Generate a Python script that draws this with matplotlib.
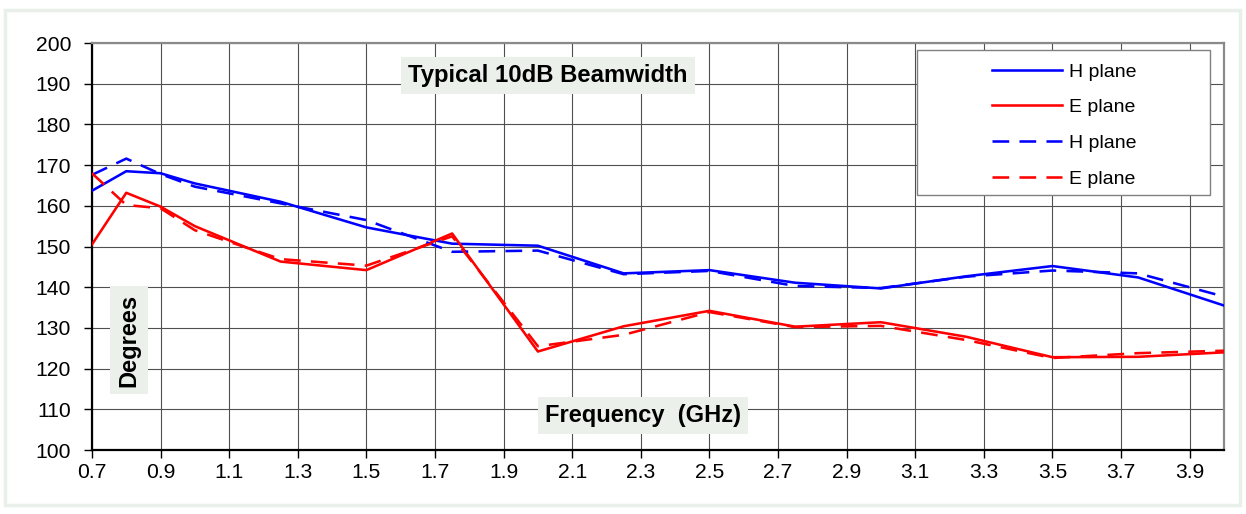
import numpy as np
import matplotlib
matplotlib.use("Agg")
import matplotlib.pyplot as plt
from matplotlib.patches import Rectangle

plt.rcParams["font.family"] = ["Liberation Sans", "DejaVu Sans"]

# data
freq = [0.7, 0.8, 0.9, 1.0, 1.25, 1.5, 1.75, 2.0, 2.25, 2.5, 2.75, 3.0, 3.25, 3.5, 3.75, 4.0]
h_solid = [163.7, 168.5, 168.0, 165.5, 161.0, 154.7, 150.7, 150.2, 143.4, 144.2, 141.1, 139.7, 142.7, 145.2, 142.4, 135.5]
e_solid = [150.5, 163.2, 159.8, 155.0, 146.3, 144.2, 153.2, 124.2, 130.4, 134.2, 130.3, 131.4, 127.8, 122.8, 122.9, 124.0]
h_dash = [167.6, 171.6, 167.8, 164.7, 160.6, 156.5, 148.7, 149.0, 143.2, 144.0, 140.3, 139.8, 142.6, 144.1, 143.4, 137.7]
e_dash = [168.0, 160.2, 159.4, 154.0, 146.9, 145.3, 152.5, 125.5, 128.3, 133.9, 130.2, 130.5, 127.0, 122.6, 123.8, 124.4]

xticks = [round(0.7 + 0.2*i, 1) for i in range(17)]
yticks = list(range(100, 201, 10))

fig = plt.figure(figsize=(12.46, 5.14), dpi=100)
ax = fig.add_axes([0.0738, 0.1245, 0.9085, 0.7918])

# light outer frame
fig.patches.append(Rectangle((0.004, 0.018), 0.991, 0.962, transform=fig.transFigure,
                             fill=False, edgecolor="#e9f0e9", linewidth=2.5))

lw = 1.85
ax.plot(freq, h_solid, color="#0000ff", lw=lw, label="H plane", zorder=4)
ax.plot(freq, e_solid, color="#ff0000", lw=lw, label="E plane", zorder=4)
ax.plot(freq, h_dash, color="#0000ff", lw=lw, dashes=(6.5, 4), label="H plane", zorder=4)
ax.plot(freq, e_dash, color="#ff0000", lw=lw, dashes=(6.5, 4), label="E plane", zorder=4)

ax.set_xlim(0.7, 4.0)
ax.set_ylim(100, 200)
ax.set_xticks(xticks)
ax.set_xticklabels([f"{t:.1f}" for t in xticks])
ax.set_yticks(yticks)
ax.tick_params(axis="y", direction="out", length=6, width=1, pad=9, labelsize=15.2)
ax.tick_params(axis="x", direction="out", length=6, width=1, pad=3, labelsize=15.2)
ax.set_axisbelow(True)
ax.grid(True, color="#505050", linewidth=0.8)

for side in ["left", "bottom"]:
    ax.spines[side].set_color("black")
    ax.spines[side].set_linewidth(1.6)
for side in ["top", "right"]:
    ax.spines[side].set_color("#8a8a8a")
    ax.spines[side].set_linewidth(1.6)

# legend frame and legend
ax.add_patch(Rectangle((0.7288, 0.6265), 0.2588, 0.3565, transform=ax.transAxes,
                       facecolor="white", edgecolor="#808080", linewidth=1.0, zorder=5))
leg = ax.legend(loc="upper left", bbox_to_anchor=(0.795, 0.951), frameon=False,
                borderpad=0, borderaxespad=0, handlelength=3.6, handletextpad=0.35,
                labelspacing=0.93, fontsize=14)
leg.set_zorder(6)

box = dict(boxstyle="square,pad=0.3", facecolor="#ebf1ea", edgecolor="none")
ax.text(2.03, 192, "Typical 10dB Beamwidth", ha="center", va="center",
        fontsize=17.2, fontweight="bold", bbox=box, zorder=5)
ax.text(0.808, 127, "Degrees", ha="center", va="center", rotation=90,
        fontsize=17, fontweight="bold", bbox=box, zorder=5)
ax.text(2.306, 108.4, "Frequency  (GHz)", ha="center", va="center",
        fontsize=17, fontweight="bold", bbox=box, zorder=5)

fig.savefig("out.png", dpi=100)
